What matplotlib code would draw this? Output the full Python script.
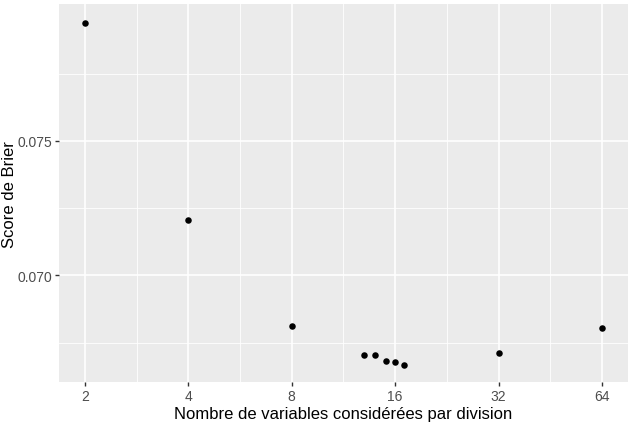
import matplotlib
matplotlib.use("Agg")
import matplotlib.pyplot as plt
from matplotlib.ticker import FixedLocator, FixedFormatter

plt.rcParams['font.family'] = ['Liberation Sans', 'DejaVu Sans']

# data
mtry = [2, 4, 8, 13, 14, 15, 16, 17, 32, 64]
brier = [0.07937, 0.07207, 0.06811, 0.06704, 0.06704, 0.06681, 0.06678, 0.06667, 0.06711, 0.06804]
x_ticks = [2, 4, 8, 16, 32, 64]
y_ticks = [0.070, 0.075]
y_minor = [0.0675, 0.0725, 0.0775]

fig = plt.figure(figsize=(6.31, 4.31), dpi=100)
ax = fig.add_axes([0.0935, 0.1114, 0.9015, 0.8766])
ax.set_facecolor('#EBEBEB')

ax.set_xscale('log', base=2)
ax.set_xlim(2 ** 0.75, 2 ** 6.25)
ax.set_ylim(0.06604, 0.08008)

# ggplot-style grid: thin minor lines halfway between majors
x_minor = [2 ** (k + 0.5) for k in range(1, 6)]
for v in x_minor:
    ax.axvline(v, color='white', lw=0.6, zorder=0)
for v in y_minor:
    ax.axhline(v, color='white', lw=0.6, zorder=0)
for v in x_ticks:
    ax.axvline(v, color='white', lw=1.2, zorder=0)
for v in y_ticks:
    ax.axhline(v, color='white', lw=1.2, zorder=0)

ax.scatter(mtry, brier, s=22, color='black', zorder=3, linewidths=0)

ax.xaxis.set_major_locator(FixedLocator(x_ticks))
ax.xaxis.set_major_formatter(FixedFormatter([str(v) for v in x_ticks]))
ax.xaxis.set_minor_locator(FixedLocator([]))
ax.yaxis.set_major_locator(FixedLocator(y_ticks))
ax.yaxis.set_major_formatter(FixedFormatter(['0.070', '0.075']))
ax.yaxis.set_minor_locator(FixedLocator([]))

ax.tick_params(axis='both', length=3, width=1, color='#333333',
               labelcolor='#4D4D4D', labelsize=10, pad=2)
for s in ax.spines.values():
    s.set_visible(False)

ax.set_xlabel('Nombre de variables considérées par division', fontsize=12, labelpad=2)
ax.set_ylabel('Score de Brier', fontsize=12)
ax.yaxis.set_label_coords(-0.074, 0.5)

fig.savefig('out.png', dpi=100)
